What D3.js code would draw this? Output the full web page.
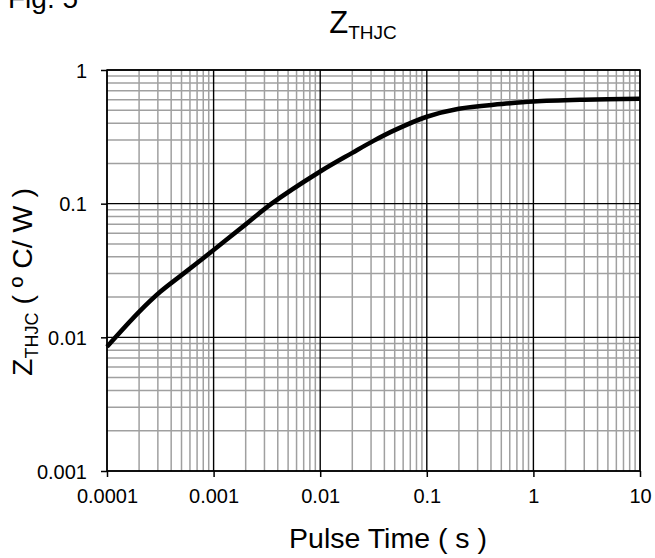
<!DOCTYPE html>
<html>
<head>
<meta charset="utf-8">
<script src="https://cdn.jsdelivr.net/npm/d3@7"></script>
<style>
  body { margin: 0; background: #fff; }
  text { font-family: "Liberation Sans", Arial, sans-serif; fill: #000; }
</style>
</head>
<body>
<div id="chart"></div>
<script>
// pulse time (s) and transient thermal impedance (°C/W)
const pulseTime = [0.0001, 0.0002, 0.000316, 0.0005, 0.001, 0.002, 0.0035, 0.01,
  0.02, 0.0316, 0.05, 0.1, 0.2, 0.5, 1, 3, 10];
const zthjc = [0.0085, 0.0155, 0.0219, 0.0292, 0.045, 0.07, 0.1, 0.174,
  0.24, 0.295, 0.355, 0.447, 0.513, 0.556, 0.582, 0.6, 0.61];

const xTicks = [0.0001, 0.001, 0.01, 0.1, 1, 10];
const xTickLabels = ["0.0001", "0.001", "0.01", "0.1", "1", "10"];
const yTicks = [0.001, 0.01, 0.1, 1];
const yTickLabels = ["0.001", "0.01", "0.1", "1"];

const config = {
  width: 655,
  height: 558,
  margin: { top: 70, right: 15, bottom: 87, left: 107 },
};

const innerW = config.width - config.margin.left - config.margin.right;
const innerH = config.height - config.margin.top - config.margin.bottom;

const svg = d3
  .select("#chart")
  .append("svg")
  .attr("width", config.width)
  .attr("height", config.height);

const chart = svg
  .append("g")
  .attr("transform", `translate(${config.margin.left},${config.margin.top})`);

const x = d3.scaleLog().domain([0.0001, 10]).range([0, innerW]);
const y = d3.scaleLog().domain([0.001, 1]).range([innerH, 0]);

// minor grid: 2..9 in every decade
const minorX = [];
xTicks.slice(0, -1).forEach((d) => {
  for (let k = 2; k <= 9; k++) minorX.push(d * k);
});
const minorY = [];
yTicks.slice(0, -1).forEach((d) => {
  for (let k = 2; k <= 9; k++) minorY.push(d * k);
});

chart.selectAll(".minor-x")
  .data(minorX)
  .join("line")
  .attr("x1", (d) => x(d)).attr("x2", (d) => x(d))
  .attr("y1", 0).attr("y2", innerH)
  .style("stroke", "#a0a0a0")
  .style("stroke-width", 1.5);

chart.selectAll(".minor-y")
  .data(minorY)
  .join("line")
  .attr("y1", (d) => y(d)).attr("y2", (d) => y(d))
  .attr("x1", 0).attr("x2", innerW)
  .style("stroke", "#a0a0a0")
  .style("stroke-width", 1.5);

// major grid
chart.selectAll(".major-x")
  .data(xTicks)
  .join("line")
  .attr("x1", (d) => x(d)).attr("x2", (d) => x(d))
  .attr("y1", 0).attr("y2", innerH)
  .style("stroke", "#000")
  .style("stroke-width", 1.4);

chart.selectAll(".major-y")
  .data(yTicks)
  .join("line")
  .attr("y1", (d) => y(d)).attr("y2", (d) => y(d))
  .attr("x1", 0).attr("x2", innerW)
  .style("stroke", "#000")
  .style("stroke-width", 1.4);

// frame
chart.append("rect")
  .attr("width", innerW)
  .attr("height", innerH)
  .style("fill", "none")
  .style("stroke", "#000")
  .style("stroke-width", 1.5);

// axes
const xAxis = chart.append("g")
  .attr("transform", `translate(0,${innerH})`)
  .call(d3.axisBottom(x).tickValues(xTicks)
    .tickFormat((d, i) => xTickLabels[i]).tickSizeInner(6).tickSizeOuter(0).tickPadding(12));

const yAxis = chart.append("g")
  .call(d3.axisLeft(y).tickValues(yTicks)
    .tickFormat((d, i) => yTickLabels[i]).tickSizeInner(6).tickSizeOuter(0).tickPadding(14));

[xAxis, yAxis].forEach((g) => {
  g.select(".domain").remove();
  g.selectAll("line").style("stroke", "#000").style("stroke-width", 1.5);
  g.selectAll("text")
    .style("font-size", "20px")
    .style("font-family", "'Liberation Sans', Arial, sans-serif");
});
yAxis.selectAll("text").attr("dy", "0.36em");

// curve
const line = d3.line()
  .x((d) => x(d[0]))
  .y((d) => y(d[1]))
  .curve(d3.curveCatmullRom.alpha(0.5));

chart.append("path")
  .datum(pulseTime.map((t, i) => [t, zthjc[i]]))
  .attr("d", line)
  .style("fill", "none")
  .style("stroke", "#000")
  .style("stroke-width", 4.5)
  .style("stroke-linejoin", "round");

// title
const title = svg.append("text")
  .attr("x", 363)
  .attr("y", 33)
  .style("text-anchor", "middle");
title.append("tspan").style("font-size", "31px").text("Z");
title.append("tspan").style("font-size", "19px").attr("dy", 6).text("THJC");

// axis titles
svg.append("text")
  .attr("x", 388)
  .attr("y", 548)
  .style("text-anchor", "middle")
  .style("font-size", "28.5px")
  .text("Pulse Time ( s )");

const yLabel = svg.append("text")
  .attr("transform", "translate(32,282) rotate(-90)")
  .style("text-anchor", "middle")
  .style("font-size", "28.5px");
yLabel.append("tspan").text("Z");
yLabel.append("tspan").style("font-size", "18px").attr("dy", 6).text("THJC");
yLabel.append("tspan").attr("dy", -6).text(" ( º C/ W )");

// figure label, clipped by the top edge
svg.append("text")
  .attr("x", 8)
  .attr("y", 8)
  .style("font-size", "28px")
  .text("Fig. 5");
</script>
</body>
</html>
